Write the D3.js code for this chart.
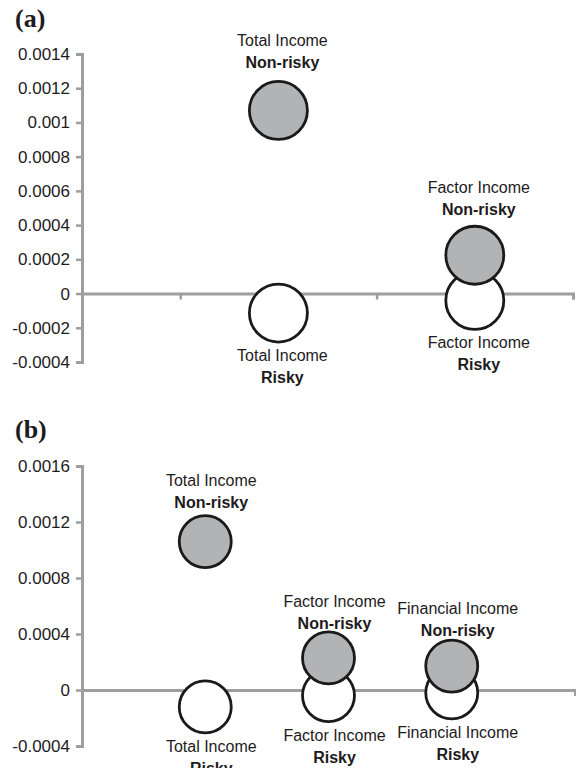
<!DOCTYPE html>
<html>
<head>
<meta charset="utf-8">
<script src="https://cdn.jsdelivr.net/npm/d3@7"></script>
<style>
  body { margin: 0; background: #fff; }
  svg { display: block; font-family: "Liberation Sans", Arial, sans-serif; }
</style>
</head>
<body>
<script>
// panel (a)
const catsA = ['Total Income', 'Factor Income'];
const xA = [1, 2];
const nonRiskyA = [0.00107, 0.000224];
const riskyA = [-0.000114, -0.00004];
const yTicksA = [0.0014, 0.0012, 0.001, 0.0008, 0.0006, 0.0004, 0.0002, 0, -0.0002, -0.0004];
const xTicksA = [0.5, 1.5, 2.5];

// panel (b)
const catsB = ['Total Income', 'Factor Income', 'Financial Income'];
const xB = [1, 2, 3];
const nonRiskyB = [0.00106, 0.000229, 0.000171];
const riskyB = [-0.000121, -0.00004, -0.00002];
const yTicksB = [0.0016, 0.0012, 0.0008, 0.0004, 0, -0.0004];
const xTicksB = [4];

const width = 576, height = 768;
const svg = d3.select('body').append('svg')
    .attr('width', width).attr('height', height);

const grey = '#9e9e9e', ink = '#1e1b1c';

function panel(o) {
  const g = svg.append('g');
  const x = d3.scaleLinear().domain(o.xDomain).range([82, o.xRight]);
  const y = d3.scaleLinear().domain(o.yDomain).range(o.yRange);

  g.append('text').attr('x', 15).attr('y', o.titleY)
      .attr('font-family', '"Liberation Serif", "Times New Roman", serif')
      .attr('font-weight', 'bold').attr('font-size', 26).attr('fill', ink)
      .text(o.title);

  // y axis
  const ya = g.append('g').attr('transform', 'translate(82,0)')
      .call(d3.axisLeft(y).tickValues(o.yTicks).tickSizeOuter(0).tickSize(6).tickPadding(6)
        .tickFormat(d => String(+d.toFixed(4))));
  ya.select('.domain').attr('stroke', grey).attr('stroke-width', 3);
  ya.selectAll('.tick line').attr('stroke', grey).attr('stroke-width', 2.5);
  ya.selectAll('.tick text').attr('font-size', 17).attr('fill', ink)
      .attr('font-family', '"Liberation Sans", Arial, sans-serif');

  // x axis along zero
  const xa = g.append('g').attr('transform', `translate(0,${y(0)})`)
      .call(d3.axisBottom(x).tickValues(o.xTicks).tickSizeOuter(0).tickSize(6).tickFormat(''));
  xa.select('.domain').attr('stroke', grey).attr('stroke-width', 3);
  xa.selectAll('.tick line').attr('stroke', grey).attr('stroke-width', 2.5);

  const rows = o.cats.map((c, i) => ({c, i, x: o.xs[i], nr: o.nr[i], r: o.r[i]}));

  // risky (white) first, non-risky (grey) on top
  g.selectAll('circle.risky').data(rows).join('circle').attr('class', 'risky')
      .attr('cx', d => x(d.x)).attr('cy', d => y(d.r)).attr('r', o.rad)
      .attr('fill', '#fff').attr('stroke', '#1a1a1a').attr('stroke-width', 2.8);
  g.selectAll('circle.nonrisky').data(rows).join('circle').attr('class', 'nonrisky')
      .attr('cx', d => x(d.x)).attr('cy', d => y(d.nr)).attr('r', o.rad)
      .attr('fill', '#b2b3b5').attr('stroke', '#1a1a1a').attr('stroke-width', 2.8);

  const dx = o.dx;
  // labels above non-risky
  const up = g.selectAll('g.up').data(rows).join('g').attr('class', 'up')
      .attr('transform', d => `translate(${x(d.x) + dx},${y(d.nr) - o.rad - o.gapUp[d.i]})`);
  up.append('text').attr('y', -22).attr('text-anchor', 'middle')
      .attr('font-size', 16).attr('fill', ink).text(d => d.c);
  up.append('text').attr('y', 0).attr('text-anchor', 'middle')
      .attr('font-size', 16).attr('font-weight', 'bold').attr('fill', ink).text('Non-risky');

  // labels below risky
  const dn = g.selectAll('g.dn').data(rows).join('g').attr('class', 'dn')
      .attr('transform', d => `translate(${x(d.x) + dx},${y(d.r) + o.rad})`);
  dn.append('text').attr('y', 19).attr('text-anchor', 'middle')
      .attr('font-size', 16).attr('fill', ink).text(d => d.c);
  dn.append('text').attr('y', 41).attr('text-anchor', 'middle')
      .attr('font-size', 16).attr('font-weight', 'bold').attr('fill', ink).text('Risky');
}

panel({title: '(a)', titleY: 27, cats: catsA, xs: xA, nr: nonRiskyA, r: riskyA,
  yTicks: yTicksA, xTicks: xTicksA, xDomain: [0, 2.5], xRight: 573,
  yDomain: [-0.0004, 0.0014], yRange: [362, 54], rad: 29, dx: 4, gapUp: [13, 11]});

panel({title: '(b)', titleY: 438, cats: catsB, xs: xB, nr: nonRiskyB, r: riskyB,
  yTicks: yTicksB, xTicks: xTicksB, xDomain: [0, 4], xRight: 575,
  yDomain: [-0.0004, 0.0016], yRange: [746, 466], rad: 26, dx: 6, gapUp: [8, 3, 4]});
</script>
</body>
</html>
